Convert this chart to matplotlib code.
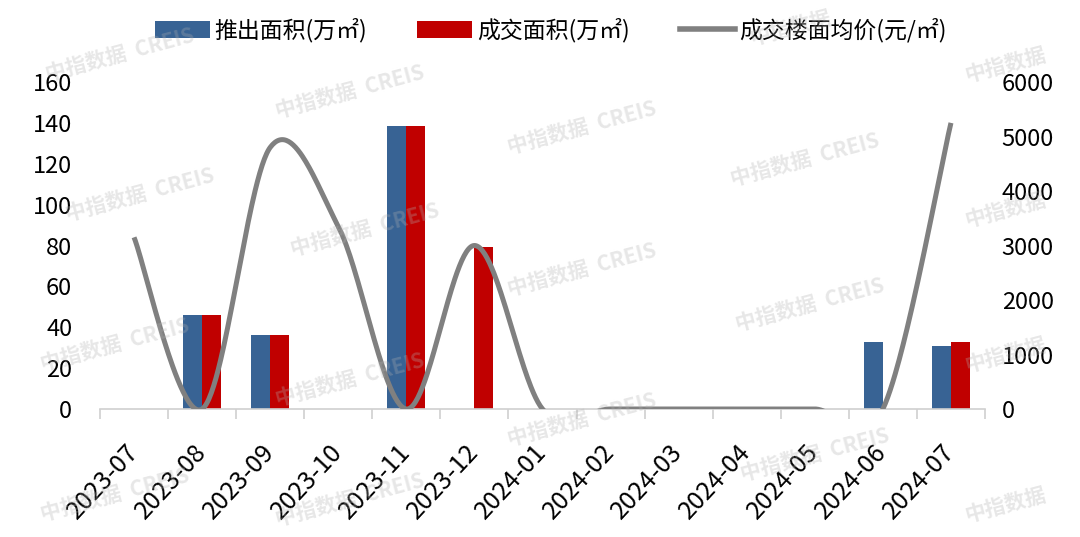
import numpy as np
import matplotlib
matplotlib.use("Agg")
import matplotlib.pyplot as plt
from matplotlib.patches import Patch
from matplotlib.lines import Line2D

plt.rcParams['font.family'] = ['Noto Sans CJK SC', 'DejaVu Sans']

months = ["2023-07", "2023-08", "2023-09", "2023-10", "2023-11", "2023-12",
          "2024-01", "2024-02", "2024-03", "2024-04", "2024-05", "2024-06", "2024-07"]
supply = [0, 46, 36, 0, 138.5, 0, 0, 0, 0, 0, 0, 33, 31]
sold = [0, 46, 36, 0, 138.5, 79.5, 0, 0, 0, 0, 0, 0, 33]
price = [3150, 0, 4800, 3350, 0, 3000, 0, 0, 0, 0, 0, 0, 5250]

left_ticks = [0, 20, 40, 60, 80, 100, 120, 140, 160]
right_ticks = [0, 1000, 2000, 3000, 4000, 5000, 6000]

BLUE = "#386394"
RED = "#C00000"
GRAY = "#808080"


def excel_smooth(x, y, n=60):
    x = np.asarray(x, float)
    y = np.asarray(y, float)
    P = np.column_stack([x, y])
    P = np.vstack([P[0], P, P[-1]])
    xs, ys = [], []
    t = np.linspace(0, 1, n)
    for i in range(1, len(P) - 2):
        p0, p1, p2, p3 = P[i - 1], P[i], P[i + 1], P[i + 2]
        c1 = p1 + (p2 - p0) / 6.0
        c2 = p2 - (p3 - p1) / 6.0
        b = ((1 - t) ** 3)[:, None] * p1 + (3 * (1 - t) ** 2 * t)[:, None] * c1 \
            + (3 * (1 - t) * t ** 2)[:, None] * c2 + (t ** 3)[:, None] * p2
        xs.append(b[:, 0])
        ys.append(b[:, 1])
    return np.concatenate(xs), np.concatenate(ys)


fig = plt.figure(figsize=(10.8, 5.37), dpi=100)
ax = fig.add_axes([100 / 1080, 1 - 409 / 537, 885 / 1080, 327 / 537])
ax2 = ax.twinx()

x = np.arange(len(months))
w = 0.28
ax.bar(x - w / 2, supply, width=w, color=BLUE, zorder=2)
ax.bar(x + w / 2, sold, width=w, color=RED, zorder=2)

sx, sy = excel_smooth(x, price)
ax2.plot(sx, sy, color=GRAY, lw=3.6, solid_capstyle='butt', zorder=3)

ax.set_xlim(-0.5, len(months) - 0.5)
ax.set_ylim(0, 160)
ax2.set_ylim(0, 6000)
ax.set_yticks(left_ticks)
ax2.set_yticks(right_ticks)
ax.set_yticklabels([str(v) for v in left_ticks], fontsize=17)
ax2.set_yticklabels([str(v) for v in right_ticks], fontsize=17)
ax.tick_params(axis='y', length=0, pad=20)
ax2.tick_params(axis='y', length=0, pad=12)

ax.set_xticks(x)
ax.set_xticklabels(months, rotation=47, ha='right', va='center',
                   rotation_mode='anchor', fontsize=18)
ax.tick_params(axis='x', length=0, pad=28)
ax.set_xticks(np.arange(-0.5, len(months), 1), minor=True)
ax.tick_params(axis='x', which='minor', length=7, color='#d0d0d0', width=1.2)

for a in (ax, ax2):
    for s in ('top', 'left', 'right'):
        a.spines[s].set_visible(False)
    a.spines['bottom'].set_color('#d0d0d0')
    a.spines['bottom'].set_linewidth(1.2)
ax2.spines['bottom'].set_visible(False)

handles = [Patch(facecolor=BLUE), Patch(facecolor=RED), Line2D([0], [0], color=GRAY, lw=4)]
labels = ["推出面积(万㎡)", "成交面积(万㎡)", "成交楼面均价(元/㎡)"]
fig.legend(handles, labels, loc='upper center', bbox_to_anchor=(0.51, 1.005), ncol=3,
           frameon=False, fontsize=16.5, handlelength=2.4, handleheight=0.7,
           columnspacing=2.2, handletextpad=0.2)

# watermarks
wm_full = [(120, 55), (350, 92), (582, 128), (805, 160),
           (140, 195), (365, 230), (582, 270), (810, 305),
           (115, 345), (350, 380), (582, 420), (815, 455),
           (115, 495), (350, 500)]
for (px, py) in wm_full:
    fig.text(px / 1080, 1 - py / 537, "中指数据  CREIS", fontsize=15, fontweight='bold',
             color='#b0b0b0', alpha=0.3, rotation=15, ha='center', va='center', zorder=10)
for (px, py) in [(1005, 65), (1005, 210), (1005, 355), (1005, 505), (790, 28)]:
    fig.text(px / 1080, 1 - py / 537, "中指数据", fontsize=15, fontweight='bold',
             color='#b0b0b0', alpha=0.3, rotation=15, ha='center', va='center', zorder=10)

fig.savefig("out.png", dpi=100)
